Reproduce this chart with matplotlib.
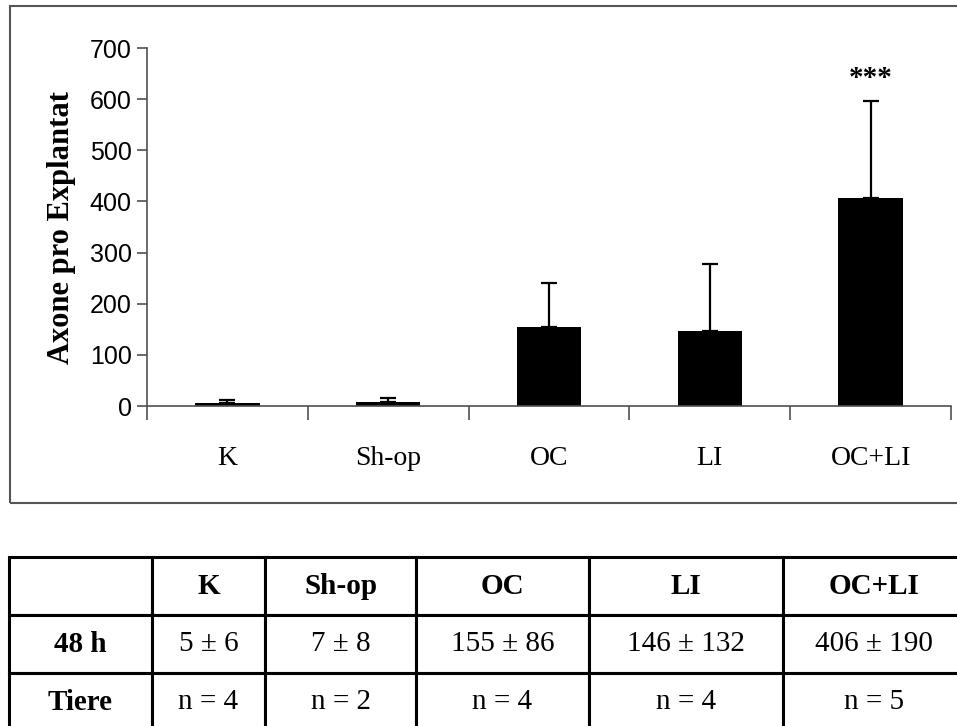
import matplotlib.pyplot as plt
from matplotlib.patches import Rectangle

# data
groups = ["K", "Sh-op", "OC", "LI", "OC+LI"]
means = [5, 7, 155, 146, 406]
sds = [6, 8, 86, 132, 190]
n_animals = [4, 2, 4, 4, 5]
row_labels = ["48 h", "Tiere"]
y_ticks = [0, 100, 200, 300, 400, 500, 600, 700]

serif = "Liberation Serif"
sans = "Liberation Sans"
axis_grey = "#505050"

fig = plt.figure(figsize=(9.57, 7.26), dpi=100)

# frame around the chart area
fig.add_artist(Rectangle((10 / 957, 1 - 503 / 726), 1.0, 497 / 726,
                         transform=fig.transFigure, fill=False,
                         edgecolor="#555555", linewidth=1.5))

ax = fig.add_axes([147 / 957, 1 - 406 / 726, 804 / 957, 358 / 726])
x = list(range(len(groups)))
ax.bar(x, means, width=0.4, color="black", zorder=2)
ax.errorbar(x, means, yerr=[[0] * len(sds), sds], fmt="none", ecolor="black",
            elinewidth=1.6, capsize=5.5, capthick=1.6, zorder=3)

ax.set_xlim(-0.5, len(groups) - 0.5)
ax.set_ylim(0, 700)
ax.set_yticks(y_ticks)
ax.set_yticklabels([str(v) for v in y_ticks], fontfamily=sans, fontsize=18)
ax.tick_params(axis="y", direction="out", length=7, width=1.2, color=axis_grey, pad=4)

# category labels centred, tick marks at the category boundaries
ax.set_xticks(x)
ax.set_xticklabels(groups, fontfamily=serif, fontsize=20)
ax.tick_params(axis="x", which="major", length=0, pad=29)
ax.set_xticks([i - 0.5 for i in range(len(groups) + 1)], minor=True)
ax.tick_params(axis="x", which="minor", direction="out", length=10, width=1.2, color=axis_grey)

for side in ["top", "right"]:
    ax.spines[side].set_visible(False)
for side in ["left", "bottom"]:
    ax.spines[side].set_color(axis_grey)
    ax.spines[side].set_linewidth(1.2)

ax.set_ylabel("Axone pro Explantat", fontfamily=serif, fontweight="bold",
              fontsize=22, labelpad=10)

ax.text(4, means[4] + sds[4] + 45, "***", ha="center", va="center",
        fontfamily=serif, fontsize=21, fontweight="bold")

# summary table below the chart
tax = fig.add_axes([9 / 957, 1 - 731 / 726, 956 / 957, 174 / 726])
tax.axis("off")
cell_text = [[""] + groups,
             [row_labels[0]] + [f"{m} \u00b1 {s}" for m, s in zip(means, sds)],
             [row_labels[1]] + [f"n = {n}" for n in n_animals]]
col_px = [143, 113, 151, 173, 194, 182]
tbl = tax.table(cellText=cell_text, colWidths=[w / sum(col_px) for w in col_px],
                cellLoc="center", bbox=[0, 0, 1, 1])
tbl.auto_set_font_size(False)
for (r, c), cell in tbl.get_celld().items():
    cell.set_linewidth(2.2)
    cell.set_edgecolor("black")
    bold = r == 0 or c == 0
    cell.get_text().set_fontfamily(serif)
    cell.get_text().set_fontsize(21)
    cell.get_text().set_fontweight("bold" if bold else "normal")

fig.savefig("out.png", dpi=100)
